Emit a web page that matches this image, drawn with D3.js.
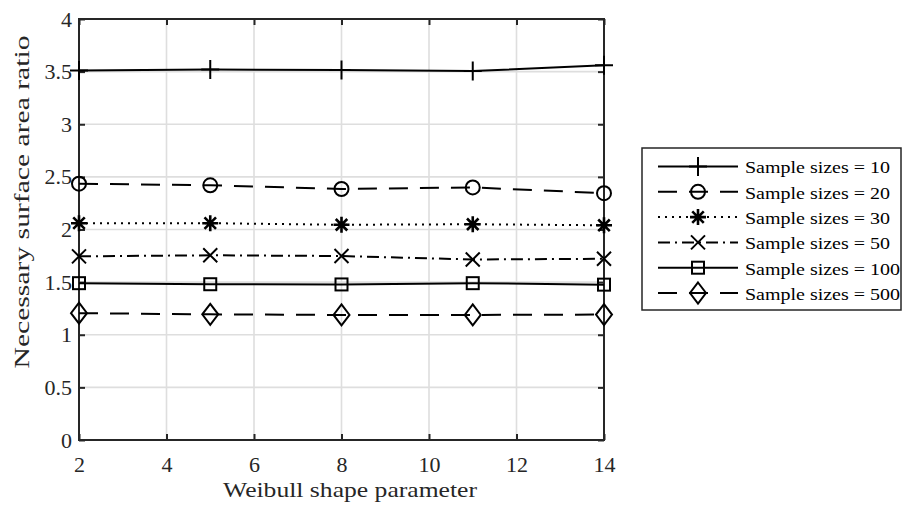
<!DOCTYPE html>
<html><head><meta charset="utf-8">
<script src="https://cdn.jsdelivr.net/npm/d3@7"></script>
<style>body{margin:0;background:#fff}svg{display:block}</style>
</head><body><div id="c"></div>
<script>
const xValues = [2, 5, 8, 11, 14];
const seriesNames = ["Sample sizes = 10","Sample sizes = 20","Sample sizes = 30","Sample sizes = 50","Sample sizes = 100","Sample sizes = 500"];
const s10  = [3.51, 3.52, 3.515, 3.505, 3.56];
const s20  = [2.435, 2.42, 2.385, 2.40, 2.345];
const s30  = [2.06, 2.06, 2.045, 2.05, 2.04];
const s50  = [1.745, 1.755, 1.748, 1.715, 1.722];
const s100 = [1.49, 1.48, 1.478, 1.49, 1.476];
const s500 = [1.205, 1.194, 1.188, 1.188, 1.192];
const xTicks = [2, 4, 6, 8, 10, 12, 14];
const yTicks = [0, 0.5, 1, 1.5, 2, 2.5, 3, 3.5, 4];
const seriesValues = [s10, s20, s30, s50, s100, s500];
const dashes = [null, "19,12", "2,5", "12,5,2,5", null, "19,12"];
const markers = ["plus", "circle", "star", "x", "square", "diamond"];

const FONT = '"Liberation Serif"';
const W = 903, H = 506;
const m = {l: 79, r: 604, t: 19, b: 440};
const svg = d3.select("#c").append("svg").attr("width", W).attr("height", H);
const x = d3.scaleLinear().domain([2, 14]).range([m.l, m.r]);
const y = d3.scaleLinear().domain([0, 4]).range([m.b, m.t]);

function setFont(sel, size) {
  sel.attr("font-family", null).style("font-family", FONT).style("font-size", size);
}
function stretch(sel, len) {
  sel.each(function () {
    this.setAttribute("textLength", len);
    this.setAttribute("lengthAdjust", "spacingAndGlyphs");
  });
}

// grid
const g = svg.append("g");
g.selectAll(".gx").data(xTicks).enter().append("line")
  .attr("x1", d => x(d)).attr("x2", d => x(d)).attr("y1", m.t).attr("y2", m.b)
  .attr("stroke", "#dedede").attr("stroke-width", 1.6);
g.selectAll(".gy").data(yTicks).enter().append("line")
  .attr("y1", d => y(d)).attr("y2", d => y(d)).attr("x1", m.l).attr("x2", m.r)
  .attr("stroke", "#dedede").attr("stroke-width", 1.6);

// axes
const ax = svg.append("g").attr("transform", `translate(0,${m.b})`)
  .call(d3.axisBottom(x).tickValues(xTicks).tickSize(-6).tickPadding(16).tickFormat(d3.format("d")));
const axT = svg.append("g").attr("transform", `translate(0,${m.t})`)
  .call(d3.axisTop(x).tickValues(xTicks).tickSize(-6).tickFormat(""));
const ay = svg.append("g").attr("transform", `translate(${m.l},0)`)
  .call(d3.axisLeft(y).tickValues(yTicks).tickSize(-6).tickPadding(7).tickFormat(d => String(d)));
const ayR = svg.append("g").attr("transform", `translate(${m.r},0)`)
  .call(d3.axisRight(y).tickValues(yTicks).tickSize(-6).tickFormat(""));
[ax, axT, ay, ayR].forEach(a => {
  a.attr("font-family", null).attr("font-size", null);
  a.select(".domain").remove();
  a.selectAll(".tick line").attr("stroke", "#262626").attr("stroke-width", 2);
  const t = a.selectAll("text").attr("fill", "#262626");
  setFont(t, "22px");
});
svg.append("rect").attr("x", m.l).attr("y", m.t).attr("width", m.r - m.l).attr("height", m.b - m.t)
  .attr("fill", "none").attr("stroke", "#262626").attr("stroke-width", 2);

// labels
const xl = svg.append("text").attr("x", 350).attr("y", 497).attr("text-anchor", "middle")
  .attr("fill", "#262626").text("Weibull shape parameter");
setFont(xl, "22px");
stretch(xl, 254);
const yl = svg.append("text").attr("transform", `translate(29,202) rotate(-90)`).attr("text-anchor", "middle")
  .attr("fill", "#262626").text("Necessary surface area ratio");
setFont(yl, "22px");
stretch(yl, 333);

function drawMarker(sel, type, cx, cy) {
  let e;
  if (type === "plus") {
    e = sel.append("path").attr("d", `M${cx-9},${cy}H${cx+9}M${cx},${cy-9.5}V${cy+9.5}`);
  } else if (type === "circle") {
    e = sel.append("circle").attr("cx", cx).attr("cy", cy).attr("r", 7);
  } else if (type === "star") {
    const r = 8, a = r * 0.72;
    e = sel.append("path").attr("d", `M${cx-r},${cy}H${cx+r}M${cx},${cy-r}V${cy+r}M${cx-a},${cy-a}L${cx+a},${cy+a}M${cx-a},${cy+a}L${cx+a},${cy-a}`);
    e.attr("stroke-width", 2.6);
  } else if (type === "x") {
    const a = 7;
    e = sel.append("path").attr("d", `M${cx-a},${cy-a}L${cx+a},${cy+a}M${cx-a},${cy+a}L${cx+a},${cy-a}`);
  } else if (type === "square") {
    e = sel.append("rect").attr("x", cx - 6).attr("y", cy - 6).attr("width", 12).attr("height", 12);
  } else if (type === "diamond") {
    e = sel.append("path").attr("d", `M${cx},${cy-10.5}L${cx+8},${cy}L${cx},${cy+10.5}L${cx-8},${cy}Z`);
  }
  e.attr("stroke", "#000").attr("fill", "none");
  if (!e.attr("stroke-width")) e.attr("stroke-width", 2);
}

const line = d3.line().x((d, i) => x(xValues[i])).y(d => y(d));
seriesValues.forEach((vals, k) => {
  const gs = svg.append("g");
  gs.append("path").attr("d", line(vals)).attr("fill", "none").attr("stroke", "#000")
    .attr("stroke-width", 2).attr("stroke-dasharray", dashes[k]);
  vals.forEach((v, i) => drawMarker(gs, markers[k], x(xValues[i]), y(v)));
});

// legend
const lg = svg.append("g");
const lx = 642, ly = 148, lw = 259, lh = 162;
lg.append("rect").attr("x", lx).attr("y", ly).attr("width", lw).attr("height", lh)
  .attr("fill", "#fff").attr("stroke", "#262626").attr("stroke-width", 1.5);
const texts = [];
seriesNames.forEach((name, k) => {
  const ry = 166.5 + k * 25.3;
  lg.append("line").attr("x1", 658).attr("x2", 738).attr("y1", ry).attr("y2", ry)
    .attr("stroke", "#000").attr("stroke-width", 2).attr("stroke-dasharray", dashes[k]);
  drawMarker(lg, markers[k], 698, ry);
  const t = lg.append("text").attr("x", 745).attr("y", ry + 6.8).attr("fill", "#000").text(name);
  setFont(t, "17px");
  texts.push(t);
});
const refLen = texts[4].node().getComputedTextLength();
const factor = 155 / refLen;
texts.forEach(t => stretch(t, t.node().getComputedTextLength() * factor));
</script></body></html>
